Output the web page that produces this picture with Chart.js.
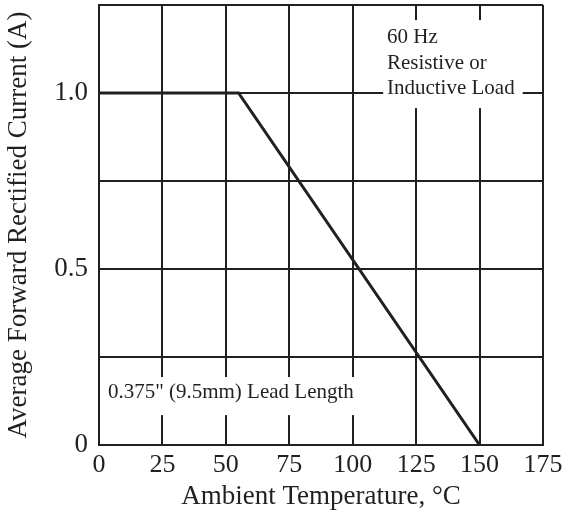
<!DOCTYPE html>
<html>
<head>
<meta charset="utf-8">
<script src="https://cdn.jsdelivr.net/npm/chart.js@4"></script>
<style>
  body { margin: 0; background: #fff; }
  #wrap { width: 562px; height: 513px; position: relative; }
</style>
</head>
<body>
<div id="wrap"><canvas id="derating"></canvas></div>
<script>
// Curve data
const temperature = [0, 55, 150];
const current = [1.0, 1.0, 0];

// Axis ticks
const xTicks = [0, 25, 50, 75, 100, 125, 150, 175];
const yTickLabels = { "0": "0", "0.5": "0.5", "1": "1.0" };

// Notes drawn on the plot
const noteLoad = ["60 Hz", "Resistive or", "Inductive Load"];
const noteLead = ["0.375\" (9.5mm) Lead Length"];

const ink = "#231f20";
const serif = "'Liberation Serif', 'Times New Roman', serif";

// white boxes with text over the grid (position in data units)
const notesPlugin = {
  id: "notes",
  beforeDatasetsDraw(chart) {
    const { ctx, scales: { x, y } } = chart;
    const boxes = [
      { x0: 112, x1: 167, y0: 1.207, y1: 0.957, tx: 113.5, ty: [1.159, 1.085, 1.014], lines: noteLoad },
      { x0: 0.9, x1: 102, y0: 0.193, y1: 0.085, tx: 3.5, ty: [0.148], lines: noteLead },
    ];
    ctx.save();
    boxes.forEach((b) => {
      const l = x.getPixelForValue(b.x0), r = x.getPixelForValue(b.x1);
      const t = y.getPixelForValue(b.y0), btm = y.getPixelForValue(b.y1);
      ctx.fillStyle = "#fff";
      ctx.fillRect(l, t, r - l, btm - t);
      ctx.fillStyle = ink;
      ctx.font = "21px " + serif;
      ctx.textBaseline = "middle";
      ctx.textAlign = "left";
      b.lines.forEach((txt, i) => {
        ctx.fillText(txt, x.getPixelForValue(b.tx), y.getPixelForValue(b.ty[i]));
      });
    });
    ctx.restore();
  },
};

new Chart(document.getElementById("derating"), {
  type: "line",
  data: {
    labels: temperature,
    datasets: [{
      data: temperature.map((t, i) => ({ x: t, y: current[i] })),
      borderColor: ink,
      borderWidth: 3,
      pointRadius: 0,
      tension: 0,
      fill: false,
    }],
  },
  options: {
    responsive: true,
    maintainAspectRatio: false,
    animation: false,
    layout: { padding: { top: 5, right: 19, left: 0, bottom: 0 } },
    plugins: { legend: { display: false }, tooltip: { enabled: false } },
    scales: {
      x: {
        type: "linear",
        min: 0,
        max: 175,
        afterBuildTicks: (s) => { s.ticks = xTicks.map((v) => ({ value: v })); },
        afterFit: (s) => { s.height = 68; s.paddingLeft = 0; s.paddingRight = 0; },
        grid: { color: ink, lineWidth: 2, drawTicks: false },
        border: { color: ink, width: 2 },
        ticks: { color: ink, padding: 5, font: { family: serif, size: 26 }, maxRotation: 0 },
        title: {
          display: true,
          text: "Ambient Temperature, °C",
          color: ink,
          font: { family: serif, size: 27 },
          padding: { top: 0, bottom: 0 },
        },
      },
      y: {
        min: 0,
        max: 1.25,
        afterFit: (s) => { s.width = 99; s.paddingTop = 0; s.paddingBottom = 0; },
        grid: { color: ink, lineWidth: 2, drawTicks: false },
        border: { color: ink, width: 2 },
        ticks: {
          stepSize: 0.25,
          color: ink,
          padding: 11,
          font: { family: serif, size: 27 },
          callback: (v) => yTickLabels[String(v)] || "",
        },
        title: {
          display: true,
          text: "Average Forward Rectified Current (A)",
          color: ink,
          font: { family: serif, size: 27 },
          padding: { top: 3, bottom: 0 },
        },
      },
    },
  },
  plugins: [notesPlugin],
});
</script>
</body>
</html>
